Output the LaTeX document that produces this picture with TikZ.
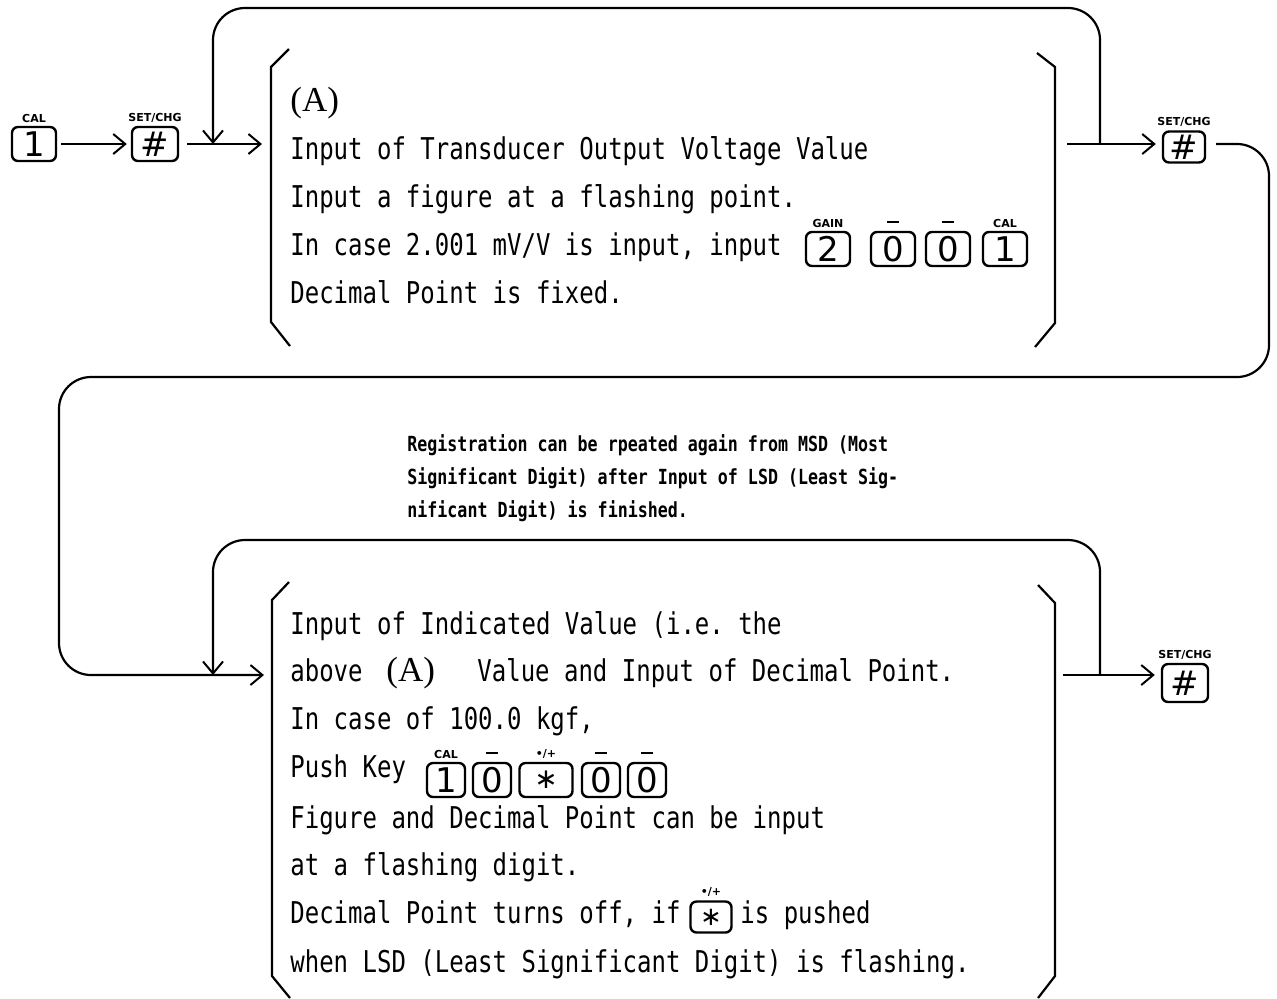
\documentclass[tikz,border=0pt]{standalone}
\usepackage{fontspec}
\setmonofont[FakeStretch=0.8]{DejaVu Sans Mono}
\newfontfamily\keyfont{DejaVu Sans}
\newfontfamily\parenfont{Liberation Serif}
\usetikzlibrary{arrows.meta,positioning}

\newcommand{\keybar}{\rule[2pt]{6pt}{1pt}}

\tikzset{
  txt/.style={anchor=base west, inner sep=0pt, font=\ttfamily\fontsize{15}{18}\selectfont},
  note/.style={anchor=base west, inner sep=0pt, font=\ttfamily\bfseries\fontsize{10.4}{12}\selectfont},
  paren/.style={anchor=base west, inner sep=0pt, font=\parenfont\fontsize{17.5}{18}\selectfont},
  key/.style={draw, line width=1.2pt, rounded corners=3pt, minimum width=22pt,
    minimum height=17pt, inner sep=0pt, font=\keyfont\fontsize{17}{17}\selectfont},
  keylab/.style={font=\keyfont\bfseries\fontsize{5.5}{6}\selectfont, inner sep=0pt},
  keyl/.style={key, label={[keylab]above:#1}},
  arr/.style={-{Straight Barb[length=6pt,width=10pt,line width=1pt]}, line width=1.1pt},
  brk/.style={line width=1.1pt},
  backloop/.style={arr, rounded corners=16pt}
}

\begin{document}
\begin{tikzpicture}[x=0.5pt, y=-0.5pt, label distance=1.5pt]
    \useasboundingbox (0,0) rectangle (1277,998);

    % entry keys
    \node[keyl=CAL] (cal) at (34,144) {1};
    \node[keyl=SET/CHG, minimum width=23pt] (set1) at (155,144) {\#};
    \coordinate (inA) at (262,144);
    \coordinate (outA) at (1067,144);
    \coordinate (jA) at (1100,144);
    \draw[arr, shorten >=2pt, shorten <=2pt] (cal) -- (set1);
    \draw[arr, shorten <=4pt] (set1) -- (inA);

    % block A brackets
    \draw[brk] (289,49) -- (271,67) -- (271,322) -- (290,346);
    \draw[brk] (1037,53) -- (1055,67) -- (1055,323) -- (1035,347);

    % block A text
    \node[paren] (tagA) at (290,111) {(A)};
    \node[txt] (a1) at (290,159) {Input of Transducer Output Voltage Value};
    \node[txt] (a2) at (290,207) {Input a figure at a flashing point.};
    \node[txt] (a3) at (290,255) {In case 2.001 mV/V is input, input};
    \node[txt] (a4) at (290,303) {Decimal Point is fixed.};
    \node[keyl=GAIN] (kgain) at (828,249) {2};
    \node[keyl=\keybar] (kz1) at (893,249) {0};
    \node[keyl=\keybar] (kz2) at (948,249) {0};
    \node[keyl=CAL] (kcal) at (1005,249) {1};

    % loop back to A, exit to SET/CHG
    \draw[backloop] (jA) -- (1100,8) -- (213,8) -- (213,144);
    \node[keyl=SET/CHG, minimum width=21pt, minimum height=15.5pt] (set2) at (1184,147) {\#};
    \draw[arr, shorten >=3pt] (outA) -- (set2.west |- outA);
    \coordinate (inB) at (264,675);
    \draw[backloop, shorten <=5pt] (set2.east |- outA) -- (1269,144) -- (1269,377)
        -- (59,377) -- (59,675) -- (inB);

    % note
    \node[note] (n1) at (407,451) {Registration can be rpeated again from MSD (Most};
    \node[note] (n2) at (407,484) {Significant Digit) after Input of LSD (Least Sig-};
    \node[note] (n3) at (407,517) {nificant Digit) is finished.};

    % block B brackets
    \draw[brk] (289,582) -- (272,600) -- (272,976) -- (290,998);
    \draw[brk] (1038,585) -- (1055,603) -- (1055,976) -- (1038,998);

    % block B text
    \node[txt] (b1) at (290,634) {Input of Indicated Value (i.e. the};
    \node[txt] (b2) at (290,681) {above};
    \node[paren] (tagB) at (386,681) {(A)};
    \node[txt] (b2r) at (477,681) {Value and Input of Decimal Point.};
    \node[txt] (b3) at (290,729) {In case of 100.0 kgf,};
    \node[txt] (b4) at (290,777) {Push Key};
    \node[keyl=CAL, minimum width=19pt] (p1) at (446,780) {1};
    \node[keyl=\keybar, minimum width=19pt] (p2) at (492,780) {0};
    \node[keyl=•/+, minimum width=26.5pt, font=\keyfont\fontsize{14}{14}\selectfont] (p3) at (546,780) {∗};
    \node[keyl=\keybar, minimum width=19pt] (p4) at (601,780) {0};
    \node[keyl=\keybar, minimum width=19pt] (p5) at (647,780) {0};
    \node[txt] (b5) at (290,828) {Figure and Decimal Point can be input};
    \node[txt] (b6) at (290,875) {at a flashing digit.};
    \node[txt] (b7) at (290,923) {Decimal Point turns off, if};
    \node[keyl=•/+, minimum width=20.5pt, minimum height=15.5pt,
        font=\keyfont\fontsize{13}{13}\selectfont] (pst) at (711,917) {∗};
    \node[txt] (b7r) at (740,923) {is pushed};
    \node[txt] (b8) at (290,972) {when LSD (Least Significant Digit) is flashing.};

    % loop back to B, exit to SET/CHG
    \coordinate (outB) at (1063,675);
    \coordinate (jB) at (1100,675);
    \draw[backloop] (jB) -- (1100,540) -- (213,540) -- (213,675);
    \node[keyl=SET/CHG, minimum width=23pt, minimum height=19pt] (set3) at (1185,683) {\#};
    \draw[arr, shorten >=3pt] (outB) -- (set3.west |- outB);

\end{tikzpicture}
\end{document}
